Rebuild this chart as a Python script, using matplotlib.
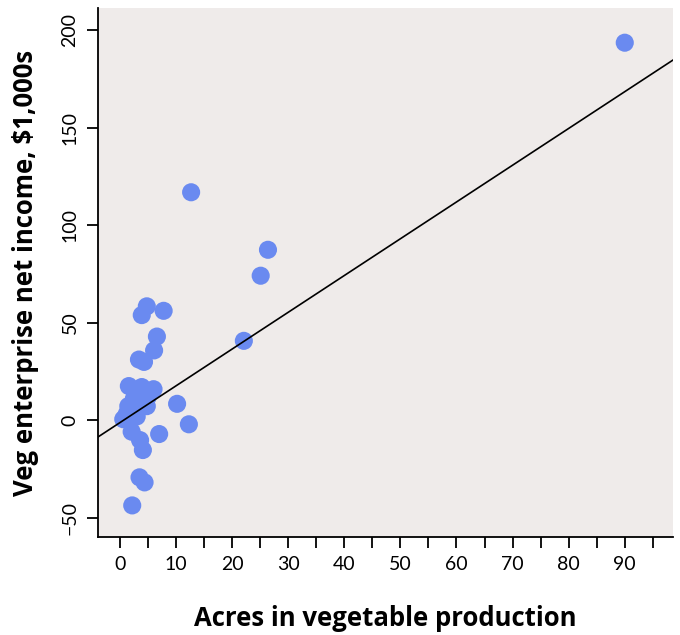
import matplotlib
matplotlib.use("Agg")
import matplotlib.pyplot as plt
import numpy as np

acres = [90.0, 12.7, 26.4, 25.1, 22.1, 10.2, 12.3, 7.0, 7.8, 4.8, 3.9, 6.6, 6.1, 3.4, 4.3,
         1.6, 3.9, 6.0, 1.5, 4.8, 0.6, 3.0, 2.1, 3.6, 4.1, 3.5, 4.4, 2.2, 2.5, 2.8, 5.0, 1.2]
income = [193.5, 116.8, 87.3, 74.0, 40.6, 8.3, -2.2, -7.2, 56.0, 58.3, 53.8, 42.8, 35.7, 31.0, 29.8,
          17.4, 16.9, 15.8, 7.1, 7.1, 0.4, 1.8, -6.0, -10.3, -15.4, -29.4, -32.0, -43.8, 11.0, 5.0, 12.0, 3.0]
fit_intercept = -1.35
fit_slope = 1.886

xticks = list(range(0, 100, 10))
yticks = [-50, 0, 50, 100, 150, 200]

plt.rcParams['font.family'] = ['Lato', 'DejaVu Sans']
fig = plt.figure(figsize=(6.8, 6.35), dpi=100)
ax = fig.add_axes([98/680, 1-537/635, (673-98)/680, (537-8)/635])
ax.set_facecolor('#efebea')
ax.set_xlim(-3.9, 98.6)
ax.set_ylim(-60, 211.3)

ax.scatter(acres, income, s=170, color='#6a8af0', edgecolors='none', zorder=3)
xl = np.array(ax.get_xlim())
ax.plot(xl, fit_intercept + fit_slope * xl, color='black', lw=1.2, zorder=4)

for s in ['top', 'right']:
    ax.spines[s].set_visible(False)
for s in ['left', 'bottom']:
    ax.spines[s].set_linewidth(1.3)

ax.set_xticks(xticks)
ax.set_xticks(list(range(5, 100, 10)), minor=True)
ax.set_yticks(yticks)
ax.tick_params(axis='both', which='both', length=8, width=1.3, labelsize=14, pad=6)
ax.tick_params(axis='y', labelrotation=90)
for lab in ax.get_yticklabels():
    lab.set_verticalalignment('center')

lab_font = ['Open Sans', 'DejaVu Sans']
ax.set_xlabel('Acres in vegetable production', fontsize=18.5, fontweight='bold',
              family=lab_font, labelpad=22.5)
ax.set_ylabel('Veg enterprise net income, $1,000s', fontsize=18.5, fontweight='bold',
              family=lab_font)
ax.yaxis.set_label_coords(-0.102, 0.5)

fig.savefig('out.png', dpi=100)
